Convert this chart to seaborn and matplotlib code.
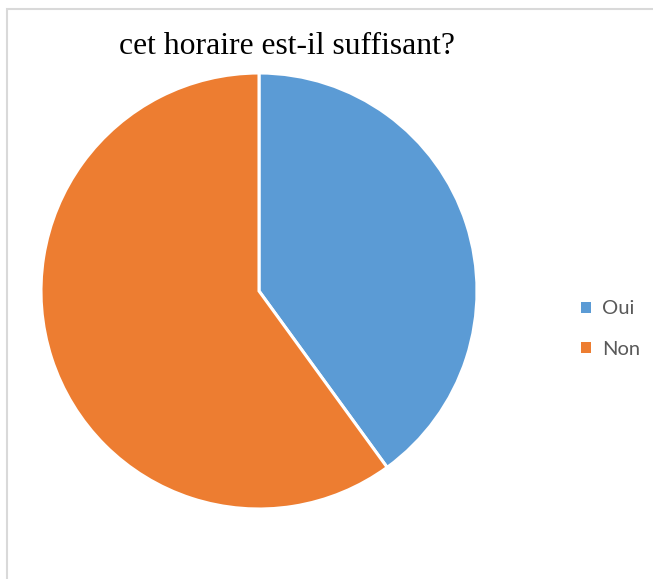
import matplotlib
matplotlib.use("Agg")
import matplotlib.pyplot as plt
from matplotlib.patches import Patch, Rectangle
import seaborn as sns

# Données
categories = ["Oui", "Non"]
values = [40, 60]
colors = ["#5B9BD5", "#ED7D31"]
title = "cet horaire est-il suffisant?"

sns.set_style("white")

fig = plt.figure(figsize=(6.53, 5.79), dpi=100)
W, H = 653, 579

# cadre gris clair (coupé à droite et en bas comme sur l'image)
fig.patches.append(Rectangle((7 / W, -0.1), 1.2, (579 - 9) / H + 0.1,
                             transform=fig.transFigure, fill=False,
                             edgecolor="#d9d9d9", linewidth=1.5))

# camembert : centre (259, 291) px, rayon 218 px
r = 218
pad = 1.03
ax = fig.add_axes([(259 - r * pad) / W, (H - 291 - r * pad) / H,
                   2 * r * pad / W, 2 * r * pad / H])
ax.pie(values, colors=colors, startangle=90, counterclock=False,
       wedgeprops={"edgecolor": "white", "linewidth": 2.2})
ax.set_xlim(-pad, pad)
ax.set_ylim(-pad, pad)
ax.set_aspect("equal")
ax.axis("off")

fig.text(287 / W, 1 - 47 / H, title, ha="center", va="center",
         fontsize=22.8, family="Liberation Serif", color="black")

handles = [Patch(facecolor=c, edgecolor="none") for c in colors]
fig.legend(handles, categories, loc="center left",
           bbox_to_anchor=(563 / W, 1 - 329 / H), frameon=False,
           prop={"family": "Lato", "size": 14.5}, labelcolor="#595959",
           handlelength=0.5, handleheight=0.5, handletextpad=0.55,
           labelspacing=1.15)

fig.savefig("out.png", dpi=100)
